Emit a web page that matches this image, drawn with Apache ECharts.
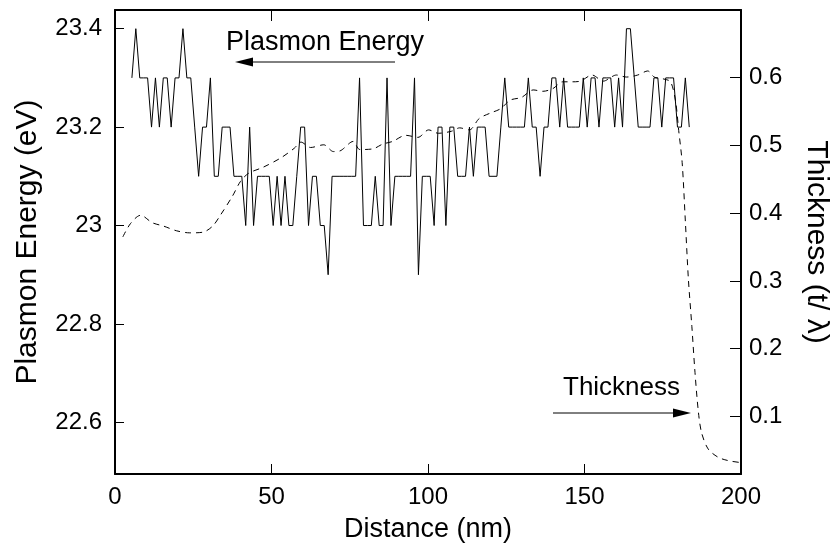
<!DOCTYPE html>
<html><head><meta charset="utf-8">
<script src="https://cdn.jsdelivr.net/npm/echarts@6/dist/echarts.min.js"></script>
<style>html,body{margin:0;padding:0;background:#fff}#c{width:839px;height:551px}</style>
</head><body><div id="c"></div>
<script>
// sampling grid of the plasmon profile
const distanceStart = 5.4;
const distanceStep = 1.254;
const plasmonEnergy = [
23.3,23.4,23.3,23.3,23.3,23.2,23.3,23.2,23.3,23.3,
23.2,23.3,23.3,23.4,23.3,23.3,23.2,23.1,23.2,23.2,
23.3,23.1,23.1,23.2,23.2,23.2,23.1,23.1,23.1,23.0,
23.2,23.0,23.1,23.1,23.1,23.1,23.0,23.1,23.0,23.1,
23.0,23.0,23.1,23.2,23.2,23.0,23.1,23.1,23.0,23.0,
22.9,23.1,23.1,23.1,23.1,23.1,23.1,23.1,23.3,23.0,
23.0,23.0,23.1,23.0,23.0,23.3,23.0,23.1,23.1,23.1,
23.1,23.1,23.3,22.9,23.1,23.1,23.1,23.0,23.2,23.2,
23.0,23.2,23.2,23.1,23.1,23.1,23.2,23.1,23.2,23.2,
23.2,23.1,23.1,23.1,23.2,23.3,23.2,23.2,23.2,23.2,
23.2,23.3,23.2,23.2,23.1,23.2,23.2,23.3,23.3,23.2,
23.3,23.2,23.2,23.2,23.2,23.3,23.2,23.3,23.3,23.2,
23.3,23.3,23.3,23.2,23.3,23.2,23.4,23.4,23.3,23.2,
23.2,23.2,23.2,23.3,23.3,23.2,23.3,23.3,23.3,23.2,
23.2,23.3,23.2
];
const thicknessDistance = [
2.5,5,8.2,11.9,15.5,19.7,23.9,28.1,31.2,33.8,
37.5,40.1,42.7,47.4,53.1,57.3,59.4,62.5,66.7,69.8,
71.9,76.1,78.2,82.4,85.5,88.7,92.9,96.8,100.2,103.3,
107.5,110.1,113.2,116.4,120,123.1,126.3,129.9,133.6,136.7,
139.9,143,146.1,148.7,152.4,156,160.2,163.4,167,170.2,
172.3,175.4,177.5,179.1,180.1,181.2,182.2,183.2,184.3,185.3,
186.4,187.4,189.5,192.6,195.7,199.8,205
];
const thicknessValues = [
0.365,0.385,0.397,0.386,0.381,0.374,0.371,0.372,0.381,0.398,
0.425,0.447,0.459,0.468,0.482,0.496,0.505,0.497,0.501,0.491,
0.492,0.506,0.494,0.495,0.502,0.506,0.515,0.512,0.523,0.518,
0.521,0.526,0.523,0.540,0.548,0.554,0.567,0.571,0.582,0.580,
0.584,0.594,0.594,0.595,0.604,0.595,0.604,0.601,0.604,0.610,
0.601,0.598,0.594,0.565,0.522,0.475,0.390,0.302,0.233,0.165,
0.106,0.076,0.052,0.040,0.035,0.032,0.031
];
const distanceTicks = [0, 50, 100, 150, 200];
const energyTicks = [22.6, 22.8, 23.0, 23.2, 23.4];
const thicknessTicks = [0.1, 0.2, 0.3, 0.4, 0.5, 0.6];

const plasmonData = plasmonEnergy.map((v, i) => [distanceStart + distanceStep * i, v]);
const thicknessData = thicknessValues.map((v, i) => [thicknessDistance[i], v]);

const FONT = 'Liberation Sans, Arial, Helvetica, sans-serif';
const axisLineStyle = { color: '#000', width: 2 };
const chart = echarts.init(document.getElementById('c'), null, { renderer: 'canvas' });
chart.setOption({
  animation: false,
  backgroundColor: '#fff',
  grid: { left: 115, right: 85, top: 10, bottom: 77, containLabel: false },
  xAxis: [
    {
      type: 'value', min: 0, max: 200, interval: 50, position: 'bottom',
      axisLine: { show: true, onZero: false, lineStyle: axisLineStyle },
      axisTick: { show: true, inside: true, length: 10, lineStyle: { color: '#000', width: 1 } },
      axisLabel: { show: true, color: '#000', fontSize: 24, fontFamily: FONT, margin: 11 },
      splitLine: { show: false },
      name: 'Distance (nm)', nameLocation: 'middle', nameGap: 42,
      nameTextStyle: { color: '#000', fontSize: 27, fontFamily: FONT }
    },
    {
      type: 'value', min: 0, max: 200, interval: 50, position: 'top',
      axisLine: { show: true, onZero: false, lineStyle: axisLineStyle },
      axisTick: { show: true, inside: true, length: 11, lineStyle: { color: '#000', width: 1 } },
      axisLabel: { show: false }, splitLine: { show: false }
    }
  ],
  yAxis: [
    {
      type: 'value', min: 22.495, max: 23.438, position: 'left',
      axisLine: { show: true, onZero: false, lineStyle: axisLineStyle },
      axisTick: { show: true, inside: true, length: 9, customValues: energyTicks, lineStyle: { color: '#000', width: 1 } },
      axisLabel: { show: true, customValues: energyTicks, color: '#000', fontSize: 24, fontFamily: FONT, margin: 13,
        formatter: v => String(Math.round(v * 10) / 10) },
      splitLine: { show: false },
      name: 'Plasmon Energy (eV)', nameLocation: 'middle', nameGap: 72, nameRotate: 90,
      nameTextStyle: { color: '#000', fontSize: 30, fontFamily: FONT }
    },
    {
      type: 'value', min: 0.015, max: 0.70, position: 'right',
      axisLine: { show: true, onZero: false, lineStyle: axisLineStyle },
      axisTick: { show: true, inside: true, length: 11, customValues: thicknessTicks, lineStyle: { color: '#000', width: 1 } },
      axisLabel: { show: true, customValues: thicknessTicks, color: '#000', fontSize: 24, fontFamily: FONT, margin: 8,
        formatter: v => String(Math.round(v * 10) / 10) },
      splitLine: { show: false },
      name: 'Thickness (t/ λ)', nameLocation: 'middle', nameGap: 60, nameRotate: -90,
      nameTextStyle: { color: '#000', fontSize: 30, fontFamily: FONT }
    }
  ],
  series: [
    {
      name: 'Plasmon Energy', type: 'line', xAxisIndex: 0, yAxisIndex: 0,
      data: plasmonData, showSymbol: false, symbol: 'none',
      lineStyle: { color: '#000', width: 1 }
    },
    {
      name: 'Thickness', type: 'line', xAxisIndex: 0, yAxisIndex: 1,
      data: thicknessData, showSymbol: false, symbol: 'none', smooth: 0.3, clip: false,
      lineStyle: { color: '#000', width: 1, type: [6, 5] }
    }
  ],
  graphic: [
    { type: 'text', left: 226, top: 29, style: { text: 'Plasmon Energy', font: '27px ' + FONT, fill: '#000' } },
    { type: 'line', shape: { x1: 250, y1: 62, x2: 395, y2: 62 }, style: { stroke: '#000', lineWidth: 1 } },
    { type: 'polygon', shape: { points: [[235, 62], [253, 57.5], [253, 66.5]] }, style: { fill: '#000' } },
    { type: 'text', left: 563, top: 375, style: { text: 'Thickness', font: '26px ' + FONT, fill: '#000' } },
    { type: 'line', shape: { x1: 553, y1: 413, x2: 676, y2: 413 }, style: { stroke: '#000', lineWidth: 1 } },
    { type: 'polygon', shape: { points: [[691, 413], [673, 408.5], [673, 417.5]] }, style: { fill: '#000' } }
  ]
});
</script>
</body></html>
